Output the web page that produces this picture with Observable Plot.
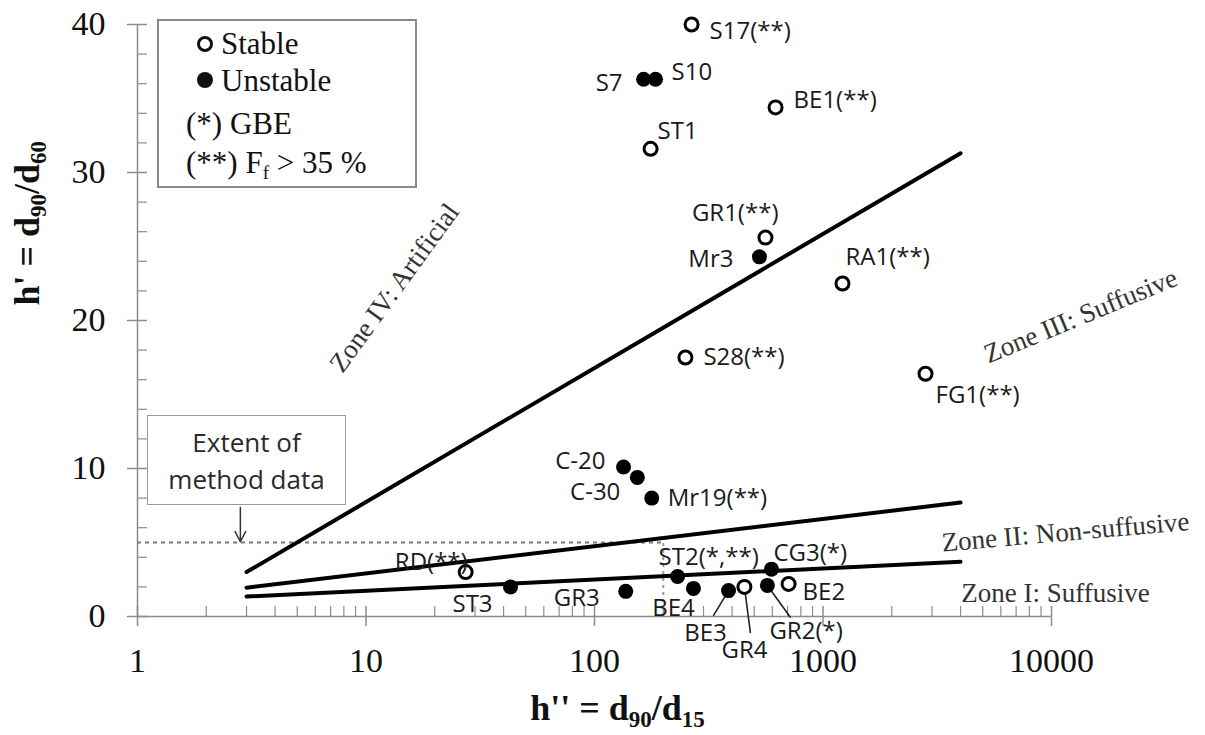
<!DOCTYPE html>
<html>
<head>
<meta charset="utf-8">
<script src="https://cdn.jsdelivr.net/npm/d3@7"></script>
<script src="https://cdn.jsdelivr.net/npm/@observablehq/plot@0.6"></script>
<style>
  body { margin: 0; background: #fff; }
  #wrap { position: relative; width: 1205px; height: 735px; overflow: hidden; background: #fff; }
  #chart svg { display: block; }
  .serif { font-family: "Liberation Serif", "Times New Roman", serif; color: #111; }
  #legend { position: absolute; left: 157px; top: 19px; width: 256px; height: 165px; border: 2px solid #8a8a8a; background: #fff; }
  #legend .row { position: absolute; font-size: 31px; line-height: 34px; white-space: nowrap; }
  #legend .sym { position: absolute; width: 10px; height: 10px; border-radius: 50%; }
  #legend sub { font-size: 19px; vertical-align: -6px; line-height: 0; }
  #extent { position: absolute; left: 147px; top: 415px; width: 199px; height: 90px; border: 1.5px solid #9a9a9a; background: #fff;
            font-family: "Open Sans", sans-serif; font-size: 26px; color: #2a2a2a; text-align: center; line-height: 37px; padding-top: 8px; box-sizing: border-box; }
</style>
</head>
<body>
<div id="wrap">
  <div id="chart"></div>
  <div id="legend" class="serif">
    <div class="sym" style="left:38px;top:15px;border:3px solid #111;"></div>
    <div class="row" style="left:62px;top:6px;">Stable</div>
    <div class="sym" style="left:38px;top:51px;width:16px;height:16px;background:#111;"></div>
    <div class="row" style="left:62px;top:43px;">Unstable</div>
    <div class="row" style="left:27px;top:86px;">(*) GBE</div>
    <div class="row" style="left:27px;top:125px;">(**) F<sub>f</sub> &gt; 35 %</div>
  </div>
  <div id="extent">Extent of<br>method data</div>
</div>
<script>
// ---- data ----
const stableNames = ["S17(**)", "BE1(**)", "ST1", "GR1(**)", "RA1(**)", "S28(**)", "FG1(**)", "RD(**)", "GR4", "BE2"];
const stableH2    = [266, 620, 176, 560, 1217, 250, 2810, 27.3, 453, 707];   // h'' = d90/d15
const stableH1    = [40.0, 34.4, 31.6, 25.6, 22.5, 17.5, 16.4, 3.0, 2.0, 2.2]; // h' = d90/d60

const unstableNames = ["S7", "S10", "Mr3", "C-20", "C-30", "Mr19(**)", "ST3", "GR3", "ST2(*,**)", "BE4", "BE3", "CG3(*)", "GR2(*)"];
const unstableH2    = [164, 185, 527, 134, 154, 178, 42.9, 137, 231, 271, 386, 595, 571];
const unstableH1    = [36.3, 36.3, 24.3, 10.1, 9.4, 8.0, 2.0, 1.7, 2.7, 1.9, 1.75, 3.2, 2.1];

// zone boundary lines (straight in semi-log space): h'' end points and h' values
const boundaryH2      = [3, 4000];
const zoneIVBoundary  = [3.0, 31.3];
const zoneIIUpper     = [1.95, 7.7];
const zoneIUpper      = [1.35, 3.7];

// extent of method data
const extentH2 = 200;
const extentH1 = 5;
const extentArrow = [{h2: 2.82, from: 7.36, to: 5.05}];

// zone labels (anchor in data units)
const zoneIVLabel  = [{text: "Zone IV: Artificial", h2: 13.3, h1: 22.2}];
const zoneIIILabel = [{text: "Zone III: Suffusive", h2: 13400, h1: 20.3}];
const zoneIILabel  = [{text: "Zone II: Non-suffusive", h2: 11500, h1: 5.7}];
const zoneILabel   = [{text: "Zone I: Suffusive", h2: 10400, h1: 1.55}];

// axis ticks
const xMajorTicks = [1, 10, 100, 1000, 10000];
const yMajorTicks = [0, 10, 20, 30, 40];

// ---- layout (label offsets in px) ----
const placement = {
  "S17(**)": ["start", 18, 7], "S7": ["end", -21, 4], "S10": ["start", 16, -7],
  "BE1(**)": ["start", 18, -7], "ST1": ["start", 7, -18], "GR1(**)": ["end", 13, -24],
  "Mr3": ["end", -26, 2], "RA1(**)": ["start", 3, -26], "S28(**)": ["start", 18, 0],
  "FG1(**)": ["start", 10, 22], "C-20": ["end", -18, -6], "C-30": ["end", -17, 15],
  "Mr19(**)": ["start", 16, 0], "RD(**)": ["end", 2, -10], "ST3": ["middle", -38, 17],
  "GR3": ["end", -26, 7], "ST2(*,**)": ["start", -19, -19], "CG3(*)": ["start", 2, -16],
  "BE4": ["middle", -20, 20], "BE3": ["middle", -23, 43], "GR4": ["middle", 0, 63],
  "GR2(*)": ["start", 2, 46], "BE2": ["start", 14, 8]
};
const leaderLayout = {"BE3": [29, 211], "GR4": [46, 172.6], "GR2(*)": [39, 144.3]};

const serif = '"Liberation Serif", "Times New Roman", serif';
const sans = '"Open Sans", "Liberation Sans", sans-serif';

const stable = stableNames.map((name, i) => ({name, h2: stableH2[i], h1: stableH1[i]}));
const unstable = unstableNames.map((name, i) => ({name, h2: unstableH2[i], h1: unstableH1[i]}));
const allPoints = [...stable, ...unstable];

const boundaries = [["IV", zoneIVBoundary], ["II", zoneIIUpper], ["I", zoneIUpper]]
  .flatMap(([zone, vals]) => boundaryH2.map((h2, i) => ({zone, h2, h1: vals[i]})));

const xMinor = [];
for (let d = 1; d < 10000; d *= 10) for (let k = 2; k <= 9; k++) xMinor.push(d * k);
const yMinor = d3.range(2, 40, 2).filter(v => v % 10 !== 0);

const leaders = allPoints.filter(p => leaderLayout[p.name])
  .map(p => ({...p, len: leaderLayout[p.name][0], ang: leaderLayout[p.name][1]}));

const spike = {draw(context, l) { context.moveTo(0, 0); context.lineTo(0, -l); }};

const labelMarks = allPoints.map(p => {
  const [anchor, dx, dy] = placement[p.name];
  return Plot.text([p], {x: "h2", y: "h1", text: "name", textAnchor: anchor, dx, dy,
    lineAnchor: "middle", fontFamily: sans, fontSize: 24, fill: "#1a1a1a"});
});

const zoneStyle = {x: "h2", y: "h1", text: "text", fontFamily: serif, fontSize: 27, fill: "#333", lineAnchor: "middle"};

const Y_TITLE = "h' = d90/d60";
const X_TITLE = "h'' = d90/d15";

const chart = Plot.plot({
  width: 1205, height: 735,
  marginLeft: 137, marginRight: 154, marginTop: 24, marginBottom: 119,
  x: {type: "log", domain: [1, 10000], axis: null},
  y: {domain: [0, 40], axis: null},
  length: {type: "identity"},
  style: {background: "transparent", overflow: "visible"},
  marks: [
    // axes
    Plot.ruleY([0], {x1: 1, x2: 10000, stroke: "#8c8c8c", strokeWidth: 1.5}),
    Plot.ruleX([1], {y1: 0, y2: 40, stroke: "#8c8c8c", strokeWidth: 1.5}),
    Plot.ruleX(xMinor, {x: d => d, y1: 0, y2: 0, insetTop: -10, stroke: "#8c8c8c", strokeWidth: 1.2}),
    Plot.ruleX(xMajorTicks, {x: d => d, y1: 0, y2: 0, insetTop: -10, insetBottom: -10, stroke: "#8c8c8c", strokeWidth: 1.5}),
    Plot.ruleY(yMinor, {y: d => d, x1: 1, x2: 1, insetRight: -10, stroke: "#8c8c8c", strokeWidth: 1.2}),
    Plot.ruleY(yMajorTicks, {y: d => d, x1: 1, x2: 1, insetRight: -10, insetLeft: -10, stroke: "#8c8c8c", strokeWidth: 1.5}),
    Plot.text(xMajorTicks, {x: d => d, text: d => String(d), frameAnchor: "bottom", dy: 45, lineAnchor: "middle",
      fontFamily: serif, fontSize: 34, fill: "#111"}),
    Plot.text(yMajorTicks, {y: d => d, text: d => String(d), frameAnchor: "left", dx: -32, textAnchor: "end", lineAnchor: "middle",
      fontFamily: serif, fontSize: 34, fill: "#111"}),
    Plot.text([Y_TITLE], {frameAnchor: "left", dx: -110, dy: -15, rotate: -90, text: d => d, lineAnchor: "middle",
      fontFamily: serif, fontSize: 36, fontWeight: "bold", fill: "#111"}),
    Plot.text([X_TITLE], {frameAnchor: "bottom", dx: 23, dy: 92, text: d => d, lineAnchor: "middle",
      fontFamily: serif, fontSize: 36, fontWeight: "bold", fill: "#111"}),
    // extent of method data
    Plot.ruleY([extentH1], {x1: 1, x2: extentH2, stroke: "#7a7a7a", strokeWidth: 2, strokeDasharray: "4,4"}),
    Plot.ruleX([extentH2], {y1: 0, y2: extentH1, stroke: "#9a9a9a", strokeWidth: 2, strokeDasharray: "3,4"}),
    Plot.arrow(extentArrow, {x1: "h2", x2: "h2", y1: "from", y2: "to", stroke: "#333", strokeWidth: 1.5, headLength: 17, headAngle: 55}),
    // zone boundaries
    Plot.line(boundaries, {x: "h2", y: "h1", z: "zone", stroke: "#000", strokeWidth: 4}),
    // zone labels
    Plot.text(zoneIVLabel, {...zoneStyle, rotate: -54}),
    Plot.text(zoneIIILabel, {...zoneStyle, rotate: -22.5}),
    Plot.text(zoneIILabel, {...zoneStyle, rotate: -5}),
    Plot.text(zoneILabel, {...zoneStyle}),
    // leaders
    Plot.vector(leaders, {x: "h2", y: "h1", length: "len", rotate: "ang", anchor: "start", shape: spike, stroke: "#222", strokeWidth: 1.6}),
    // points
    Plot.dot(unstable, {x: "h2", y: "h1", r: 7.5, fill: "#000", stroke: "none"}),
    Plot.dot(stable, {x: "h2", y: "h1", r: 6.5, fill: "#fff", stroke: "#000", strokeWidth: 3}),
    ...labelMarks
  ]
});

document.getElementById("chart").appendChild(chart);

// rich text (subscripts) for axis titles
function subscriptTitle(content, parts) {
  const t = d3.select(chart).selectAll("text").filter(function() { return this.textContent === content; });
  if (t.empty()) return;
  t.text(null);
  let shifted = false;
  parts.forEach(([s, sub]) => {
    const ts = t.append("tspan").text(s);
    if (sub) { ts.attr("font-size", 23).attr("dy", 7); shifted = true; }
    else if (shifted) { ts.attr("dy", -7); shifted = false; }
  });
}
subscriptTitle(Y_TITLE, [["h' = d"], ["90", true], ["/d"], ["60", true]]);
subscriptTitle(X_TITLE, [["h'' = d"], ["90", true], ["/d"], ["15", true]]);
</script>
</body>
</html>
